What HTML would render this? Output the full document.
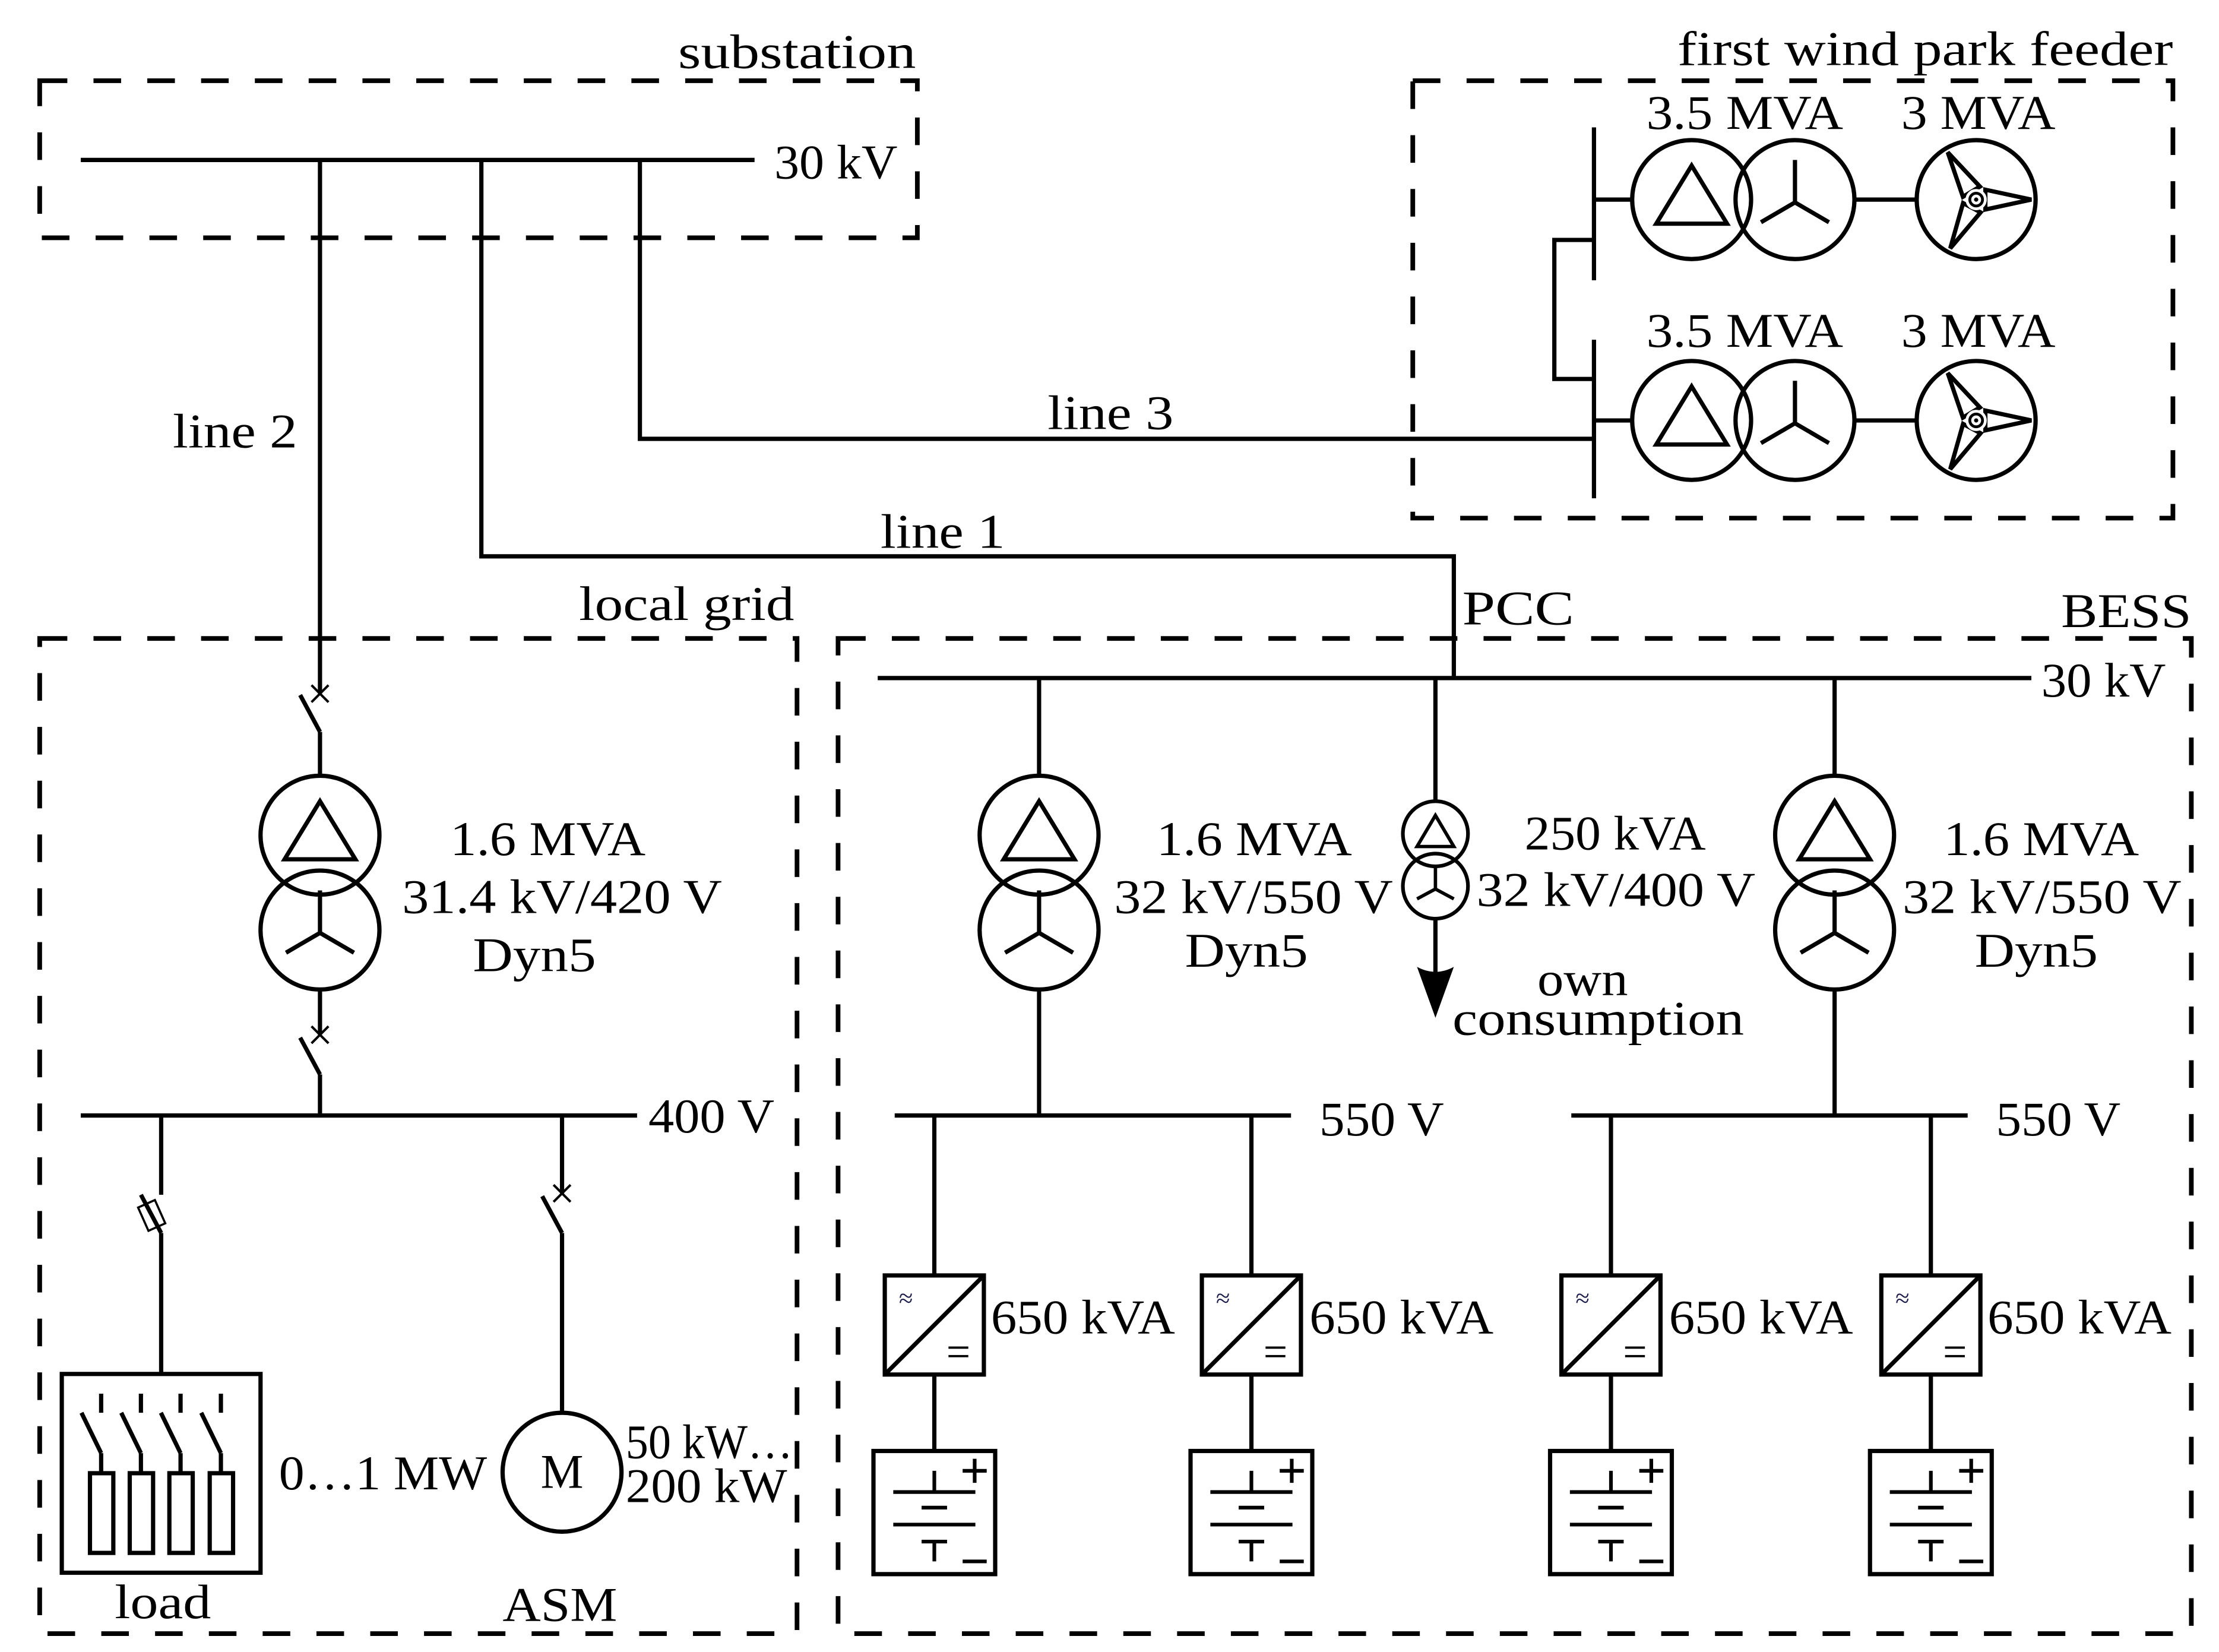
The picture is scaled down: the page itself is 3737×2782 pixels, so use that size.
<!DOCTYPE html>
<html><head><meta charset="utf-8"><style>
html,body{margin:0;padding:0;background:#fff}
svg{display:block}
text{font-family:"Liberation Serif",serif;font-size:34px;fill:#000}
</style></head><body>
<svg width="3737" height="2782" viewBox="0 0 1567.5 1167" xmlns="http://www.w3.org/2000/svg">
<defs>
<g id="inv" fill="none" stroke="#000">
<rect x="0" y="0" width="70" height="70" stroke-width="3"/>
<line x1="0" y1="70" x2="70" y2="0" stroke-width="3"/>
<line x1="45" y1="51" x2="59" y2="51" stroke-width="1.6"/>
<line x1="45" y1="57" x2="59" y2="57" stroke-width="1.6"/>
<text x="10" y="22" style="font-size:18px;fill:#1a1a4a;stroke:none">≈</text>
</g>
<g id="bat" fill="none" stroke="#000" stroke-width="2.6">
<rect x="0" y="0" width="86" height="87" stroke-width="3"/>
<line x1="14" y1="29" x2="72" y2="29"/>
<line x1="43" y1="14" x2="43" y2="29"/>
<line x1="34" y1="40" x2="52" y2="40"/>
<line x1="14" y1="52" x2="72" y2="52"/>
<line x1="34" y1="64" x2="52" y2="64"/>
<line x1="43" y1="64" x2="43" y2="78"/>
<line x1="63" y1="14" x2="80" y2="14"/>
<line x1="71.5" y1="5.5" x2="71.5" y2="22.5"/>
<line x1="63" y1="78" x2="80" y2="78"/>
</g>
<g id="delta" fill="none" stroke="#000" stroke-width="3">
<circle cx="0" cy="0" r="42"/>
<polygon points="0,-24 25,17 -25,17"/>
</g>
<g id="star" fill="none" stroke="#000" stroke-width="3">
<circle cx="0" cy="0" r="42"/>
<line x1="0" y1="2" x2="0" y2="-28"/>
<line x1="0" y1="2" x2="-24" y2="16"/>
<line x1="0" y1="2" x2="24" y2="16"/>
</g>
<g id="wind" fill="none" stroke="#000" stroke-width="3">
<circle cx="0" cy="0" r="42"/>
<polygon points="6.5,-7 39,0 6.5,7"/>
<polygon points="6.5,-7 39,0 6.5,7" transform="rotate(-121)"/>
<polygon points="6.5,-7 39,0 6.5,7" transform="rotate(118)"/>
<circle cx="0" cy="0" r="5.5" fill="#fff" stroke="#fff" stroke-width="4"/>
<circle cx="0" cy="0" r="4.5" stroke-width="2"/>
<circle cx="0" cy="0" r="1" fill="#000" stroke-width="1"/>
</g>
</defs>

<!-- dashed boxes -->
<g fill="none" stroke="#000" stroke-width="3.3" stroke-dasharray="19.5 18.5">
<rect x="28" y="57" width="620" height="111"/>
<rect x="998" y="57" width="537" height="309"/>
<rect x="28" y="451" width="535" height="703"/>
<rect x="592" y="451" width="956" height="703"/>
</g>

<g stroke="#000" stroke-width="3" fill="none">
<!-- substation -->
<line x1="57" y1="113" x2="533" y2="113"/>
<line x1="226" y1="113" x2="226" y2="490"/>
<polyline points="340,113 340,393 1027,393 1027,479"/>
<polyline points="452,113 452,310 1126,310"/>
<!-- wind park -->
<line x1="1126" y1="90" x2="1126" y2="198"/>
<line x1="1126" y1="240" x2="1126" y2="352"/>
<polyline points="1126,169.5 1098,169.5 1098,267.7 1126,267.7"/>
<line x1="1126" y1="141" x2="1153" y2="141"/>
<line x1="1126" y1="297" x2="1153" y2="297"/>
<line x1="1310" y1="141" x2="1354" y2="141"/>
<line x1="1310" y1="297" x2="1354" y2="297"/>
</g>
<use href="#delta" x="1195" y="141"/><use href="#star" x="1268" y="141"/><use href="#wind" x="1396" y="141"/>
<use href="#delta" x="1195" y="297"/><use href="#star" x="1268" y="297"/><use href="#wind" x="1396" y="297"/>

<!-- local grid -->
<g stroke="#000" stroke-width="3" fill="none">
<line x1="212" y1="491" x2="226" y2="517"/>
<line x1="226" y1="517" x2="226" y2="548"/>
<line x1="226" y1="699" x2="226" y2="731"/>
<line x1="212" y1="733" x2="226" y2="759"/>
<line x1="226" y1="759" x2="226" y2="788"/>
<line x1="57" y1="788" x2="450" y2="788"/>
<line x1="113.8" y1="788" x2="113.8" y2="844"/>
<line x1="99.5" y1="844" x2="113.8" y2="871"/>
<line x1="113.8" y1="871" x2="113.8" y2="970"/>
<line x1="397" y1="788" x2="397" y2="843"/>
<line x1="383" y1="845" x2="397" y2="871"/>
<line x1="397" y1="871" x2="397" y2="998"/>
<circle cx="397" cy="1040" r="42"/>
<rect x="43.6" y="970.6" width="140.4" height="140.4"/>
</g>
<g stroke="#000" stroke-width="1.7">
<line x1="220" y1="484" x2="232" y2="496"/><line x1="232" y1="484" x2="220" y2="496"/>
<line x1="220" y1="725" x2="232" y2="737"/><line x1="232" y1="725" x2="220" y2="737"/>
<line x1="391" y1="837" x2="403" y2="849"/><line x1="403" y1="837" x2="391" y2="849"/>
</g>
<rect x="100.6" y="849.6" width="13" height="18" fill="none" stroke="#000" stroke-width="1.5" transform="rotate(-24 107.1 858.6)"/>
<g stroke="#000" stroke-width="3" fill="none">
<line x1="71.4" y1="984.5" x2="71.4" y2="998"/><line x1="57.5" y1="998" x2="71.4" y2="1026.5"/><line x1="71.4" y1="1026.5" x2="71.4" y2="1040.7"/>
<line x1="99.5" y1="984.5" x2="99.5" y2="998"/><line x1="85.6" y1="998" x2="99.5" y2="1026.5"/><line x1="99.5" y1="1026.5" x2="99.5" y2="1040.7"/>
<line x1="127.5" y1="984.5" x2="127.5" y2="998"/><line x1="113.6" y1="998" x2="127.5" y2="1026.5"/><line x1="127.5" y1="1026.5" x2="127.5" y2="1040.7"/>
<line x1="156" y1="984.5" x2="156" y2="998"/><line x1="142.1" y1="998" x2="156" y2="1026.5"/><line x1="156" y1="1026.5" x2="156" y2="1040.7"/>
<rect x="63.5" y="1040.7" width="16.5" height="56.3"/>
<rect x="91.6" y="1040.7" width="16.5" height="56.3"/>
<rect x="119.6" y="1040.7" width="16.5" height="56.3"/>
<rect x="148.1" y="1040.7" width="16.5" height="56.3"/>
</g>
<use href="#delta" x="226" y="590"/><use href="#star" x="226" y="657"/>

<!-- BESS -->
<g stroke="#000" stroke-width="3" fill="none">
<line x1="620" y1="479" x2="1435" y2="479"/>
<line x1="734" y1="479" x2="734" y2="548"/>
<line x1="734" y1="699" x2="734" y2="788"/>
<line x1="1296" y1="479" x2="1296" y2="548"/>
<line x1="1296" y1="699" x2="1296" y2="788"/>
<line x1="1014" y1="479" x2="1014" y2="566"/>
<line x1="1014" y1="649" x2="1014" y2="700"/>
<line x1="632" y1="788" x2="912" y2="788"/>
<line x1="1110" y1="788" x2="1390" y2="788"/>
<line x1="660" y1="788" x2="660" y2="901"/><line x1="660" y1="971" x2="660" y2="1025"/>
<line x1="884" y1="788" x2="884" y2="901"/><line x1="884" y1="971" x2="884" y2="1025"/>
<line x1="1138" y1="788" x2="1138" y2="901"/><line x1="1138" y1="971" x2="1138" y2="1025"/>
<line x1="1364" y1="788" x2="1364" y2="901"/><line x1="1364" y1="971" x2="1364" y2="1025"/>
<circle cx="1014" cy="589" r="23" stroke-width="2.6"/>
<circle cx="1014" cy="626" r="23" stroke-width="2.6"/>
<polygon points="1014,576 1027,598 1001,598" stroke-width="2.4"/>
<line x1="1014" y1="628" x2="1014" y2="613" stroke-width="2.4"/>
<line x1="1014" y1="628" x2="1001" y2="635" stroke-width="2.4"/>
<line x1="1014" y1="628" x2="1027" y2="635" stroke-width="2.4"/>
</g>
<path d="M1014,719 L1001,683 Q1014,690 1027,683 Z" fill="#000"/>
<use href="#delta" x="734" y="590"/><use href="#star" x="734" y="657"/>
<use href="#delta" x="1296" y="590"/><use href="#star" x="1296" y="657"/>
<use href="#inv" x="625" y="901"/><use href="#inv" x="849" y="901"/><use href="#inv" x="1103" y="901"/><use href="#inv" x="1329" y="901"/>
<use href="#bat" x="617" y="1025"/><use href="#bat" x="841" y="1025"/><use href="#bat" x="1095" y="1025"/><use href="#bat" x="1321" y="1025"/>

<!-- texts -->
<text x="479" y="48" textLength="168" lengthAdjust="spacingAndGlyphs">substation</text>
<text x="1185" y="46" textLength="350" lengthAdjust="spacingAndGlyphs">first wind park feeder</text>
<text x="547" y="126" textLength="87" lengthAdjust="spacingAndGlyphs">30 kV</text>
<text x="122" y="316" textLength="88" lengthAdjust="spacingAndGlyphs">line 2</text>
<text x="740" y="303" textLength="89" lengthAdjust="spacingAndGlyphs">line 3</text>
<text x="622" y="387" textLength="88" lengthAdjust="spacingAndGlyphs">line 1</text>
<text x="1163" y="91" textLength="139" lengthAdjust="spacingAndGlyphs">3.5 MVA</text>
<text x="1343" y="91" textLength="109" lengthAdjust="spacingAndGlyphs">3 MVA</text>
<text x="1163" y="245" textLength="139" lengthAdjust="spacingAndGlyphs">3.5 MVA</text>
<text x="1343" y="245" textLength="109" lengthAdjust="spacingAndGlyphs">3 MVA</text>
<text x="409" y="438" textLength="152" lengthAdjust="spacingAndGlyphs">local grid</text>
<text x="1033" y="441" textLength="79" lengthAdjust="spacingAndGlyphs">PCC</text>
<text x="1456" y="443" textLength="92" lengthAdjust="spacingAndGlyphs">BESS</text>
<text x="1442" y="492" textLength="88" lengthAdjust="spacingAndGlyphs">30 kV</text>
<text x="318" y="604" textLength="138" lengthAdjust="spacingAndGlyphs">1.6 MVA</text>
<text x="284" y="645" textLength="226" lengthAdjust="spacingAndGlyphs">31.4 kV/420 V</text>
<text x="334" y="686" textLength="87" lengthAdjust="spacingAndGlyphs">Dyn5</text>
<text x="458" y="800" textLength="89" lengthAdjust="spacingAndGlyphs">400 V</text>
<text x="197" y="1052" textLength="147" lengthAdjust="spacingAndGlyphs">0…1 MW</text>
<text x="397" y="1051" text-anchor="middle">M</text>
<text x="442" y="1030" textLength="118" lengthAdjust="spacingAndGlyphs">50 kW…</text>
<text x="442" y="1061" textLength="114" lengthAdjust="spacingAndGlyphs">200 kW</text>
<text x="81" y="1143" textLength="68" lengthAdjust="spacingAndGlyphs">load</text>
<text x="355" y="1145" textLength="81" lengthAdjust="spacingAndGlyphs">ASM</text>
<text x="817" y="604" textLength="138" lengthAdjust="spacingAndGlyphs">1.6 MVA</text>
<text x="787" y="645" textLength="197" lengthAdjust="spacingAndGlyphs">32 kV/550 V</text>
<text x="837" y="683" textLength="87" lengthAdjust="spacingAndGlyphs">Dyn5</text>
<text x="1077" y="600" textLength="128" lengthAdjust="spacingAndGlyphs">250 kVA</text>
<text x="1043" y="640" textLength="197" lengthAdjust="spacingAndGlyphs">32 kV/400 V</text>
<text x="1086" y="703" textLength="64" lengthAdjust="spacingAndGlyphs">own</text>
<text x="1026" y="731" textLength="206" lengthAdjust="spacingAndGlyphs">consumption</text>
<text x="1373" y="604" textLength="138" lengthAdjust="spacingAndGlyphs">1.6 MVA</text>
<text x="1344" y="645" textLength="197" lengthAdjust="spacingAndGlyphs">32 kV/550 V</text>
<text x="1395" y="683" textLength="87" lengthAdjust="spacingAndGlyphs">Dyn5</text>
<text x="932" y="802" textLength="88" lengthAdjust="spacingAndGlyphs">550 V</text>
<text x="1410" y="802" textLength="88" lengthAdjust="spacingAndGlyphs">550 V</text>
<text x="700" y="942" textLength="130" lengthAdjust="spacingAndGlyphs">650 kVA</text>
<text x="925" y="942" textLength="130" lengthAdjust="spacingAndGlyphs">650 kVA</text>
<text x="1179" y="942" textLength="130" lengthAdjust="spacingAndGlyphs">650 kVA</text>
<text x="1404" y="942" textLength="130" lengthAdjust="spacingAndGlyphs">650 kVA</text>
</svg>
</body></html>
